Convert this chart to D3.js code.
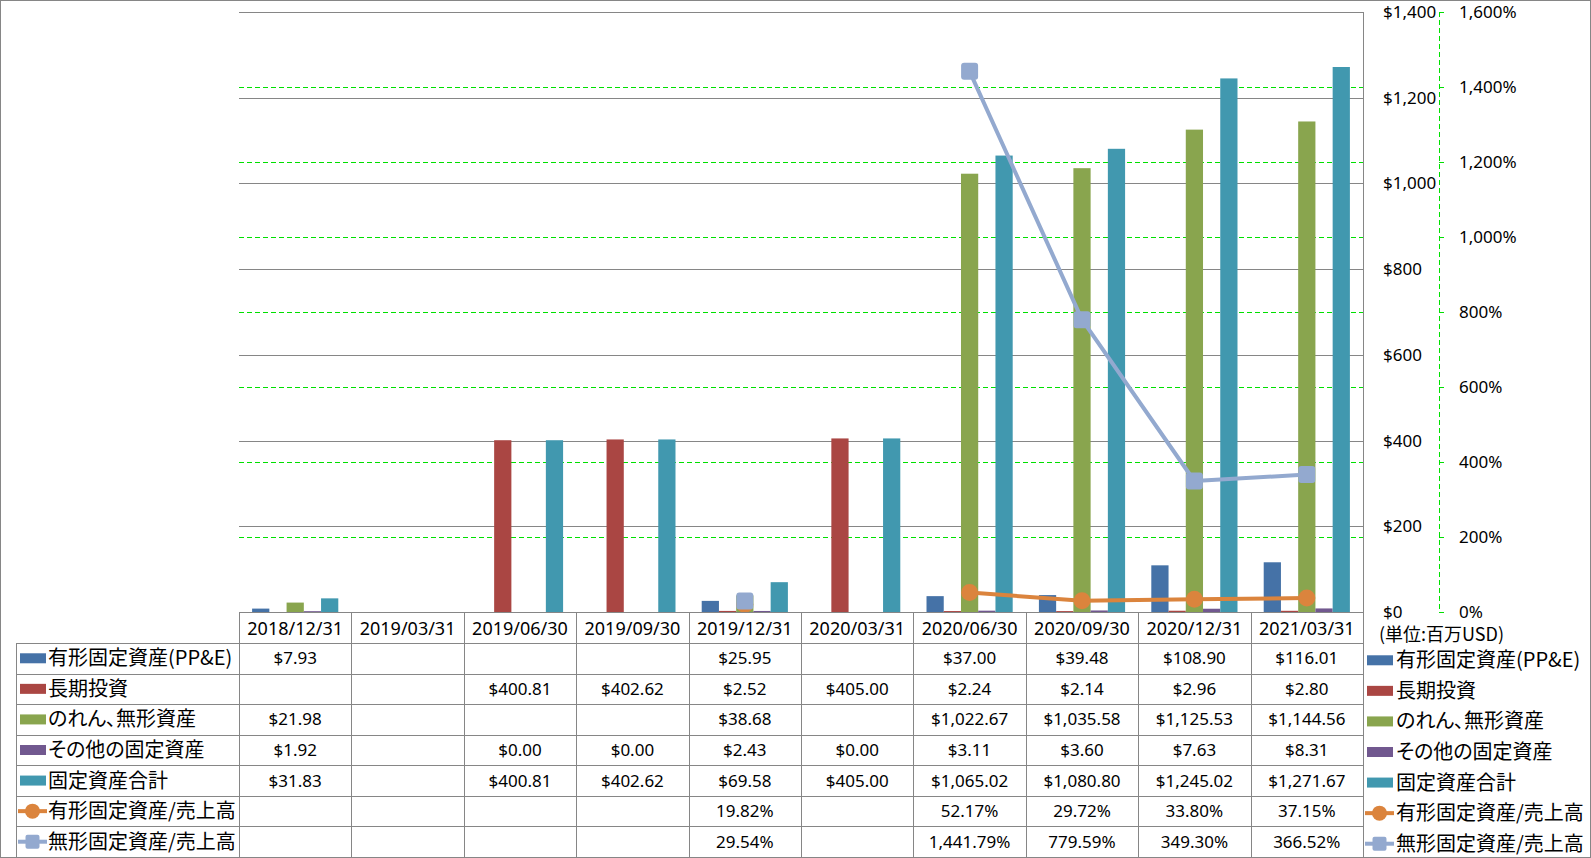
<!DOCTYPE html>
<html><head><meta charset="utf-8">
<script src="https://cdn.jsdelivr.net/npm/d3@7/dist/d3.min.js"></script>
<style>
html,body{margin:0;padding:0;background:#fff;}
svg{display:block;font-family:"Noto Sans","Noto Sans CJK JP",sans-serif;}
.jp{font-family:"Noto Sans CJK JP",sans-serif;font-feature-settings:"palt";}
</style></head><body>
<svg id="c" width="1591" height="858"></svg>
<script>
const categories = ["2018/12/31","2019/03/31","2019/06/30","2019/09/30","2019/12/31","2020/03/31","2020/06/30","2020/09/30","2020/12/31","2021/03/31"];
const barSeries = ["有形固定資産(PP&E)","長期投資","のれん、無形資産","その他の固定資産","固定資産合計"];
const ppe       = [7.93, null, null, null, 25.95, null, 37.00, 39.48, 108.90, 116.01];
const ltInvest  = [null, null, 400.81, 402.62, 2.52, 405.00, 2.24, 2.14, 2.96, 2.80];
const goodwill  = [21.98, null, null, null, 38.68, null, 1022.67, 1035.58, 1125.53, 1144.56];
const otherFA   = [1.92, null, 0.00, 0.00, 2.43, 0.00, 3.11, 3.60, 7.63, 8.31];
const totalFA   = [31.83, null, 400.81, 402.62, 69.58, 405.00, 1065.02, 1080.80, 1245.02, 1271.67];
const lineSeries = ["有形固定資産/売上高","無形固定資産/売上高"];
const ppeRatio  = [null, null, null, null, 19.82, null, 52.17, 29.72, 33.80, 37.15];
const intRatio  = [null, null, null, null, 29.54, null, 1441.79, 779.59, 349.30, 366.52];
const leftTicks  = [0,200,400,600,800,1000,1200,1400];
const rightTicks = [0,200,400,600,800,1000,1200,1400,1600];
const unitLabel = "(単位:百万USD)";

const barColors = ["#4572A7","#AA4643","#89A54E","#71588F","#4198AF"];
const lineColors = ["#DB843D","#93A9CF"];
const barData = [ppe, ltInvest, goodwill, otherFA, totalFA];
const lineData = [ppeRatio, intRatio];

const svg = d3.select("#c");
const L = 239, R = 1363, T = 12, B = 612;
const axis2X = 1439;
const gridGray = "#868686";
const fs = 17;
const fsJP = 20;

// outer border
svg.append("rect").attr("x",0.5).attr("y",0.5).attr("width",1590).attr("height",857)
  .attr("fill","none").attr("stroke",gridGray);

const x = d3.scaleBand().domain(categories).range([L,R]).padding(0);
const bw = x.bandwidth();
const x1 = d3.scaleBand().domain(barSeries).range([bw*0.1166, bw*(1-0.1166)]).padding(0);
const y = d3.scaleLinear().domain([0,1400]).range([B,T]);
const y2 = d3.scaleLinear().domain([0,1600]).range([B,T]);

// gray gridlines (primary)
svg.append("g").selectAll("line").data(leftTicks.filter(d=>d>0)).join("line")
  .attr("x1",L).attr("x2",R).attr("y1",d=>Math.round(y(d))+0.5).attr("y2",d=>Math.round(y(d))+0.5)
  .attr("stroke",gridGray).attr("stroke-width",1);
// green dashed gridlines (secondary)
svg.append("g").selectAll("line").data(rightTicks.filter(d=>d>0 && d<1600)).join("line")
  .attr("x1",L).attr("x2",R).attr("y1",d=>Math.round(y2(d))+0.5).attr("y2",d=>Math.round(y2(d))+0.5)
  .attr("stroke","#00E000").attr("stroke-width",1).attr("stroke-dasharray","5,3");
// right plot edge
svg.append("line").attr("x1",R+0.5).attr("x2",R+0.5).attr("y1",T).attr("y2",857)
  .attr("stroke",gridGray);

// bars
barData.forEach((vals,si)=>{
  svg.append("g").selectAll("rect").data(vals.map((v,i)=>({c:categories[i],v})).filter(d=>d.v!=null))
    .join("rect")
    .attr("x",d=>x(d.c)+x1(barSeries[si]))
    .attr("width",x1.bandwidth())
    .attr("y",d=>y(d.v))
    .attr("height",d=>B-y(d.v))
    .attr("fill",barColors[si]);
});

// lines
lineData.forEach((vals,si)=>{
  const pts = vals.map((v,i)=>({c:categories[i],v}));
  const line = d3.line().defined(d=>d.v!=null)
    .x(d=>x(d.c)+bw/2).y(d=>y2(d.v));
  svg.append("path").datum(pts).attr("d",line).attr("fill","none")
    .attr("stroke",lineColors[si]).attr("stroke-width",4).attr("stroke-linejoin","round");
  const g = svg.append("g");
  const dd = pts.filter(d=>d.v!=null);
  if (si===0) {
    g.selectAll("circle").data(dd).join("circle")
      .attr("cx",d=>x(d.c)+bw/2).attr("cy",d=>y2(d.v)).attr("r",8.5).attr("fill",lineColors[si]);
  } else {
    g.selectAll("rect").data(dd).join("rect")
      .attr("x",d=>x(d.c)+bw/2-8.5).attr("y",d=>y2(d.v)-8.5).attr("width",17).attr("height",17)
      .attr("rx",3).attr("fill",lineColors[si]);
  }
});

// left-value axis labels (placed at right)
svg.append("g").selectAll("text").data(leftTicks).join("text")
  .attr("x",1383).attr("y",d=>y(d)).attr("dy","0.35em")
  .attr("font-size",fs).attr("fill","#000")
  .text(d=>"$"+d3.format(",")(d));
// secondary axis line (green dashed) + ticks
svg.append("line").attr("x1",axis2X+0.5).attr("x2",axis2X+0.5).attr("y1",T).attr("y2",B)
  .attr("stroke","#00E000").attr("stroke-dasharray","5,3");
svg.append("g").selectAll("line").data(rightTicks).join("line")
  .attr("x1",axis2X).attr("x2",axis2X+5).attr("y1",d=>Math.round(y2(d))+0.5).attr("y2",d=>Math.round(y2(d))+0.5)
  .attr("stroke","#00E000");
svg.append("g").selectAll("text").data(rightTicks).join("text")
  .attr("x",1459).attr("y",d=>y2(d)).attr("dy","0.35em")
  .attr("font-size",fs).attr("fill","#000")
  .text(d=>d3.format(",")(d)+"%");
svg.append("text").attr("class","jp").attr("x",1379).attr("y",635).attr("dy","0.35em").attr("font-size",18)
  .text(unitLabel);

// data table
const rowTop = 643, rowH = (857-643)/7;
const tbl = svg.append("g").attr("stroke",gridGray).attr("stroke-width",1);
tbl.append("line").attr("x1",L).attr("x2",R).attr("y1",B+0.5).attr("y2",B+0.5);
for (let r=0;r<=7;r++){
  const yy = Math.round(rowTop + r*rowH)+0.5;
  tbl.append("line").attr("x1",16).attr("x2",R).attr("y1",yy).attr("y2",yy);
}
tbl.append("line").attr("x1",16.5).attr("x2",16.5).attr("y1",rowTop).attr("y2",857);
tbl.selectAll("line.v").data(categories).join("line").attr("class","v")
  .attr("x1",d=>Math.round(x(d))+0.5).attr("x2",d=>Math.round(x(d))+0.5).attr("y1",B).attr("y2",857);

// header
svg.append("g").selectAll("text").data(categories).join("text")
  .attr("x",d=>x(d)+bw/2).attr("y",(B+rowTop)/2+1).attr("dy","0.35em")
  .attr("text-anchor","middle").attr("font-size",18).text(d=>d);

const fmtMoney = v => "$"+d3.format(",.2f")(v);
const fmtPct = v => d3.format(",.2f")(v)+"%";
const allRows = [
  {name:barSeries[0], vals:ppe, fmt:fmtMoney, type:"bar", color:barColors[0]},
  {name:barSeries[1], vals:ltInvest, fmt:fmtMoney, type:"bar", color:barColors[1]},
  {name:barSeries[2], vals:goodwill, fmt:fmtMoney, type:"bar", color:barColors[2]},
  {name:barSeries[3], vals:otherFA, fmt:fmtMoney, type:"bar", color:barColors[3]},
  {name:barSeries[4], vals:totalFA, fmt:fmtMoney, type:"bar", color:barColors[4]},
  {name:lineSeries[0], vals:ppeRatio, fmt:fmtPct, type:"circle", color:lineColors[0]},
  {name:lineSeries[1], vals:intRatio, fmt:fmtPct, type:"square", color:lineColors[1]},
];

function legendKey(g, row, kx, cy){
  if (row.type==="bar"){
    g.append("rect").attr("x",kx).attr("y",cy-5).attr("width",26).attr("height",10).attr("fill",row.color);
  } else {
    g.append("line").attr("x1",kx-2).attr("x2",kx+27).attr("y1",cy).attr("y2",cy)
      .attr("stroke",row.color).attr("stroke-width",4);
    if (row.type==="circle") g.append("circle").attr("cx",kx+12.5).attr("cy",cy).attr("r",7.5).attr("fill",row.color);
    else g.append("rect").attr("x",kx+5.5).attr("y",cy-7).attr("width",14).attr("height",14).attr("rx",2).attr("fill",row.color);
  }
}

allRows.forEach((row,ri)=>{
  const cy = rowTop + ri*rowH + rowH/2;
  const g = svg.append("g");
  legendKey(g,row,20,cy);
  g.append("text").attr("class","jp").attr("x",48).attr("y",cy).attr("dy","0.35em").attr("font-size",fsJP).text(row.name);
  g.selectAll("text.v").data(row.vals.map((v,i)=>({c:categories[i],v})).filter(d=>d.v!=null))
    .join("text").attr("class","v")
    .attr("x",d=>x(d.c)+bw/2).attr("y",cy).attr("dy","0.35em")
    .attr("text-anchor","middle").attr("font-size",fs).text(d=>row.fmt(d.v));
  // right legend
  const g2 = svg.append("g");
  const cy2 = cy + 2;
  legendKey(g2,row,1367,cy2);
  g2.append("text").attr("class","jp").attr("x",1396).attr("y",cy2).attr("dy","0.35em").attr("font-size",fsJP).text(row.name);
});
</script>
</body></html>
